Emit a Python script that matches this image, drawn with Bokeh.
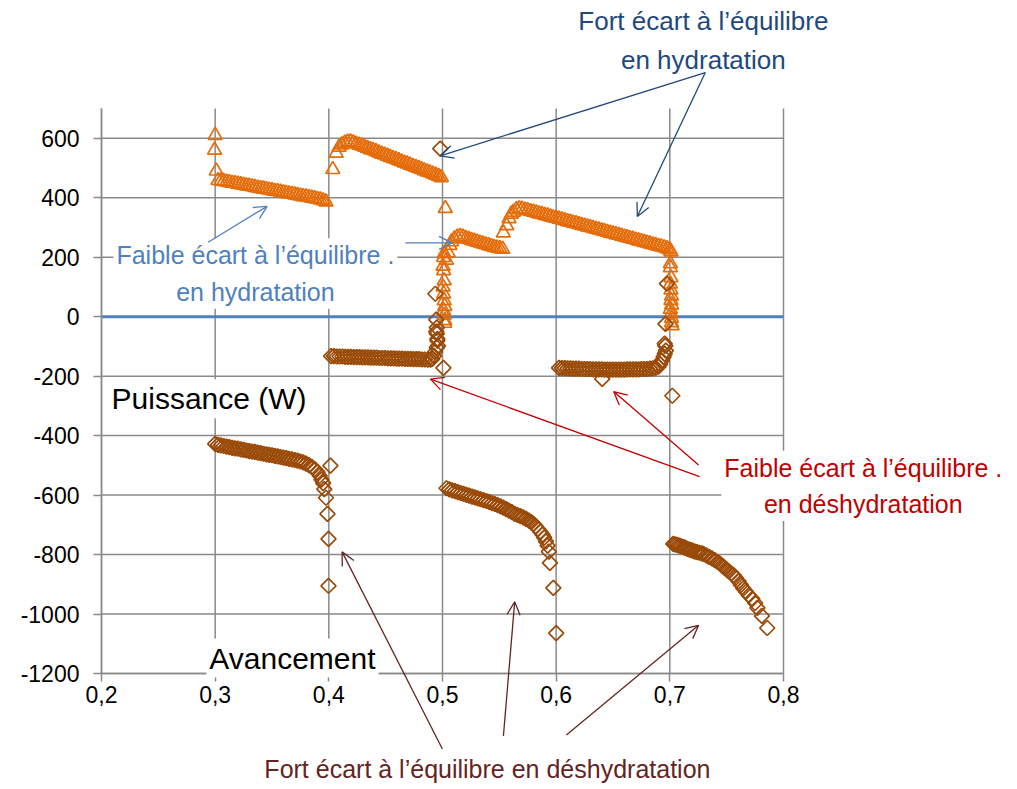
import numpy as np
from bokeh.plotting import figure
from bokeh.models import Range1d, FixedTicker, Label, Arrow, OpenHead
from bokeh.embed import file_html
from bokeh.resources import INLINE

# ---------------- data ----------------
# Hydration (orange triangles)
hyd1_x = [0.3000, 0.2995, 0.3010,
          0.3025, 0.3050, 0.3075, 0.3100, 0.3125, 0.3150, 0.3175, 0.3200, 0.3225, 0.3250,
          0.3275, 0.3300, 0.3325, 0.3350, 0.3375, 0.3400, 0.3425, 0.3450, 0.3475, 0.3500,
          0.3525, 0.3550, 0.3575, 0.3600, 0.3625, 0.3650, 0.3675, 0.3700, 0.3725, 0.3750,
          0.3775, 0.3800, 0.3825, 0.3850, 0.3875, 0.3900, 0.3925, 0.3950, 0.3975]
hyd1_y = [610, 560, 490,
          458, 457, 455, 453, 451, 449, 448, 446, 444, 442,
          440, 439, 437, 435, 433, 431, 430, 428, 426, 424,
          422, 421, 419, 417, 415, 413, 412, 410, 408, 406,
          404, 403, 401, 399, 397, 395, 393, 390, 386]

hyd2_x = [0.4035, 0.4065, 0.4090,
          0.4115, 0.4140, 0.4165, 0.4190, 0.4215, 0.4240, 0.4265, 0.4290, 0.4315, 0.4340,
          0.4365, 0.4390, 0.4415, 0.4440, 0.4465, 0.4490, 0.4515, 0.4540, 0.4565, 0.4590,
          0.4615, 0.4640, 0.4665, 0.4690, 0.4715, 0.4740, 0.4765, 0.4790, 0.4815, 0.4840,
          0.4865, 0.4890, 0.4915, 0.4940, 0.4965, 0.4990]
hyd2_y = [495, 550, 570,
          578, 584, 587, 588, 585, 581, 577, 574, 570, 566,
          562, 559, 555, 551, 547, 544, 540, 536, 532, 529,
          525, 521, 517, 514, 510, 506, 502, 499, 495, 491,
          487, 484, 480, 476, 472, 468]

hyd_drop1_x = [0.5025, 0.5015, 0.5010, 0.5005, 0.5010, 0.5015, 0.5005, 0.5010, 0.5015,
               0.5020, 0.5010, 0.5015, 0.5020, 0.5020]
hyd_drop1_y = [364, 212, 199, 170, 155, 121, 100, 77, 54, 35, 20, 5, -13, -22]

hyd3_x = [0.5035, 0.5050, 0.5065, 0.5080, 0.5105, 0.5130, 0.5155, 0.5180, 0.5205, 0.5230,
          0.5255, 0.5280, 0.5305, 0.5330, 0.5355, 0.5380, 0.5405, 0.5430, 0.5455, 0.5480,
          0.5505, 0.5530]
hyd3_y = [190, 215, 240, 252, 262, 268, 270, 268, 264, 260,
          257, 254, 251, 248, 245, 242, 239, 236, 233, 231,
          229, 227]

hyd4_x = [0.5535, 0.5565, 0.5585, 0.5605, 0.5625, 0.5650, 0.5675, 0.5700,
          0.5725, 0.5750, 0.5775, 0.5800, 0.5825, 0.5850, 0.5875, 0.5900, 0.5925, 0.5950,
          0.5975, 0.6000, 0.6025, 0.6050, 0.6075, 0.6100, 0.6125, 0.6150, 0.6175, 0.6200,
          0.6225, 0.6250, 0.6275, 0.6300, 0.6325, 0.6350, 0.6375, 0.6400, 0.6425, 0.6450,
          0.6475, 0.6500, 0.6525, 0.6550, 0.6575, 0.6600, 0.6625, 0.6650, 0.6675, 0.6700,
          0.6725, 0.6750, 0.6775, 0.6800, 0.6825, 0.6850, 0.6875, 0.6900, 0.6925, 0.6950,
          0.6975, 0.7000, 0.7010]
hyd4_y = [282, 306, 330, 345, 352, 360, 363, 362,
          359, 357, 354, 352, 349, 346, 344, 341, 339, 336,
          333, 331, 328, 326, 323, 320, 318, 315, 313, 310,
          307, 305, 302, 300, 297, 294, 292, 289, 287, 284,
          281, 279, 276, 274, 271, 268, 266, 263, 261, 258,
          255, 253, 250, 248, 245, 242, 240, 237, 235, 232,
          229, 225, 218]

hyd_drop2_x = [0.7005, 0.7005, 0.7010, 0.7005, 0.7010, 0.7015, 0.7010, 0.7015, 0.7005,
               0.7010, 0.7015, 0.7015, 0.7020]
hyd_drop2_y = [178, 165, 131, 110, 90, 70, 55, 40, 25, 10, -5, -20, -30]

# Dehydration (brown diamonds)
deh1_x = [0.3000, 0.3025, 0.3050, 0.3075, 0.3100, 0.3125, 0.3150, 0.3175, 0.3200, 0.3225,
          0.3250, 0.3275, 0.3300, 0.3325, 0.3350, 0.3375, 0.3400, 0.3425, 0.3450, 0.3475,
          0.3500, 0.3525, 0.3550, 0.3575, 0.3600, 0.3625, 0.3650, 0.3675, 0.3700, 0.3725,
          0.3750, 0.3775, 0.3800, 0.3825, 0.3850, 0.3875, 0.3900, 0.3920, 0.3935, 0.3950,
          0.3960, 0.3975, 0.3988, 0.3997, 0.3997, 0.4014]
deh1_y = [-428, -431, -433, -435, -437, -439, -441, -443, -444, -446,
          -448, -450, -452, -454, -455, -457, -459, -461, -463, -465,
          -466, -468, -470, -472, -474, -476, -478, -480, -482, -484,
          -487, -490, -494, -499, -505, -513, -523, -535, -548, -560,
          -580, -609, -663, -747, -905, -501]

deh2_x = [0.4020, 0.4045, 0.4070, 0.4095, 0.4120, 0.4145, 0.4170, 0.4195, 0.4220, 0.4245,
          0.4270, 0.4295, 0.4320, 0.4345, 0.4370, 0.4395, 0.4420, 0.4445, 0.4470, 0.4495,
          0.4520, 0.4545, 0.4570, 0.4595, 0.4620, 0.4645, 0.4670, 0.4695, 0.4720, 0.4745,
          0.4770, 0.4795, 0.4820, 0.4845, 0.4870, 0.4895,
          0.4910, 0.4925, 0.4935, 0.4950, 0.4960, 0.4955, 0.4955, 0.4950, 0.4945, 0.4950,
          0.4945, 0.4937, 0.5008]
deh2_y = [-133, -133, -134, -134, -134, -135, -135, -135, -136, -136,
          -136, -137, -137, -137, -138, -138, -138, -139, -139, -139,
          -140, -140, -140, -141, -141, -141, -142, -142, -142, -143,
          -143, -143, -144, -144, -145, -145,
          -142, -132, -118, -104, -98, -81, -75, -57, -50, -37,
          -10, 77, -172]

deh3_x = [0.5035, 0.5060, 0.5085, 0.5110, 0.5135, 0.5160, 0.5185, 0.5210, 0.5235, 0.5260,
          0.5285, 0.5310, 0.5335, 0.5360, 0.5385, 0.5410, 0.5435, 0.5460, 0.5485, 0.5510,
          0.5535, 0.5560, 0.5585, 0.5610, 0.5635, 0.5660, 0.5685, 0.5710, 0.5735, 0.5760,
          0.5780, 0.5800, 0.5820, 0.5840, 0.5860, 0.5880, 0.5895, 0.5910, 0.5925,
          0.5935, 0.5945, 0.5975, 0.6000]
deh3_y = [-577, -581, -584, -587, -590, -593, -596, -599, -602, -605,
          -608, -611, -614, -617, -620, -623, -627, -630, -634, -638,
          -642, -647, -652, -657, -663, -667, -671, -675, -680, -686,
          -691, -697, -705, -714, -723, -733, -743, -756, -770,
          -790, -828, -912, -1064]

deh4_x = [0.6025, 0.6050, 0.6075, 0.6100, 0.6125, 0.6150, 0.6175, 0.6200, 0.6225, 0.6250,
          0.6275, 0.6300, 0.6325, 0.6350, 0.6375, 0.6400, 0.6425, 0.6450, 0.6475, 0.6500,
          0.6525, 0.6550, 0.6575, 0.6600, 0.6625, 0.6650, 0.6675, 0.6700, 0.6725, 0.6750,
          0.6775, 0.6800, 0.6825, 0.6850, 0.6875, 0.6900,
          0.6915, 0.6930, 0.6945, 0.6955, 0.6965, 0.6960, 0.6955, 0.6962, 0.6975, 0.7022,
          0.6405]
deh4_y = [-172, -173, -173, -174, -174, -175, -175, -175, -176, -176,
          -176, -176, -177, -177, -177, -177, -178, -178, -178, -178,
          -178, -178, -178, -178, -177, -177, -177, -177, -177, -176,
          -176, -176, -175, -174, -172, -168,
          -160, -148, -135, -125, -114, -98, -91, -24, 111, -266,
          -209]

deh5_x = [0.7030, 0.7045, 0.7060, 0.7075, 0.7090, 0.7105, 0.7120, 0.7135, 0.7154, 0.7170,
          0.7185, 0.7200, 0.7220, 0.7240, 0.7260, 0.7280, 0.7295, 0.7320, 0.7345, 0.7370,
          0.7395, 0.7420, 0.7440, 0.7460, 0.7480, 0.7500, 0.7520, 0.7540, 0.7560, 0.7580,
          0.7605, 0.7625, 0.7646, 0.7670, 0.7695, 0.7726, 0.7750, 0.7770, 0.7810, 0.7857]
deh5_y = [-764, -766, -767, -769, -771, -773, -775, -777, -781, -783,
          -785, -787, -790, -792, -794, -796, -798, -803, -808, -813,
          -819, -825, -830, -837, -844, -851, -857, -863, -869, -878,
          -890, -902, -914, -925, -937, -949, -963, -979, -1006, -1047]

deh_single_x = [0.4980]
deh_single_y = [565]

# zero reference line
zero_x = [0.2, 0.8]
zero_y = [0, 0]

# axes
x_ticks = [0.2, 0.3, 0.4, 0.5, 0.6, 0.7, 0.8]
x_tick_labels = ["0,2", "0,3", "0,4", "0,5", "0,6", "0,7", "0,8"]
y_ticks = [-1200, -1000, -800, -600, -400, -200, 0, 200, 400, 600]
y_tick_labels = ["-1200", "-1000", "-800", "-600", "-400", "-200", "0", "200", "400", "600"]
X0, X1 = 0.2, 0.8
Y0, Y1 = -1200, 700

# ---------------- layout ----------------
W, H = 1012, 788
PL, PR, PT, PB = 101, 783, 108, 673      # plot-area edges in canvas pixels
sx = (PR - PL) / (X1 - X0)
sy = (PB - PT) / (Y1 - Y0)

FONT = "Liberation Sans"
GRID = "#8a8a8a"
ORANGE = "#E46C0A"
BROWN = "#9A4A08"

hyd_x = hyd1_x + hyd2_x + hyd_drop1_x + hyd3_x + hyd4_x + hyd_drop2_x
hyd_y = hyd1_y + hyd2_y + hyd_drop1_y + hyd3_y + hyd4_y + hyd_drop2_y
deh_x = deh1_x + deh2_x + deh3_x + deh4_x + deh5_x + deh_single_x
deh_y = deh1_y + deh2_y + deh3_y + deh4_y + deh5_y + deh_single_y
assert len(hyd_x) == len(hyd_y) and len(deh_x) == len(deh_y)

p = figure(width=W, height=H, output_backend="svg", toolbar_location=None,
           x_range=Range1d(X0 - PL / sx, X1 + (W - PR) / sx),
           y_range=Range1d(Y0 - (H - PB) / sy, Y1 + PT / sy),
           min_border=0)
p.outline_line_color = None
p.background_fill_color = "white"
p.border_fill_color = "white"
p.grid.visible = False

for ax, ticks, labels in ((p.xaxis[0], x_ticks, x_tick_labels), (p.yaxis[0], y_ticks, y_tick_labels)):
    ax.ticker = FixedTicker(ticks=ticks)
    ax.major_label_overrides = {t: l for t, l in zip(ticks, labels)}
    ax.axis_line_color = GRID
    ax.axis_line_width = 1.5
    ax.major_tick_line_color = GRID
    ax.major_tick_line_width = 1.5
    ax.major_tick_out = 8
    ax.major_tick_in = 0
    ax.minor_tick_line_color = None
    ax.major_label_text_font = FONT
    ax.major_label_text_font_size = "23px"
    ax.major_label_text_color = "black"
p.xaxis[0].fixed_location = Y0
p.xaxis[0].bounds = (X0, X1)
p.yaxis[0].fixed_location = X0
p.yaxis[0].bounds = (Y0, Y1)
p.xaxis.major_label_standoff = 4
p.yaxis.major_label_standoff = 14

# grid lines at the tick positions, limited to the plot area
p.segment(x0=x_ticks, y0=[Y0] * len(x_ticks), x1=x_ticks, y1=[Y1] * len(x_ticks),
          line_color=GRID, line_width=1.5)
p.segment(x0=[X0] * len(y_ticks), y0=y_ticks, x1=[X1] * len(y_ticks), y1=y_ticks,
          line_color=GRID, line_width=1.5)

p.line(zero_x, zero_y, line_color="#4F81BD", line_width=3)

p.scatter(hyd_x, hyd_y, marker="triangle", size=14, line_color=ORANGE,
          fill_color=None, line_width=1.7)
p.scatter(deh_x, deh_y, marker="square", angle=np.pi / 4, size=10.6,
          line_color=BROWN, fill_color=None, line_width=1.7)

# annotations
DBLUE = "#1F497D"
LBLUE = "#4F81BD"
RED = "#C00000"
DRED = "#632523"

def lab(text, x, y, color, size="25px", align="center", bg=None):
    l = Label(x=x, y=y, text=text, text_color=color, text_font=FONT,
              text_font_size=size, text_align=align, text_baseline="middle",
              text_line_height=1.3)
    if bg:
        l.background_fill_color = bg
        l.padding = 3
    p.add_layout(l)

lab("Fort écart à l’équilibre\nen hydratation", 0.7295, 930, DBLUE, size="26px")
lab("Faible écart à l’équilibre .\nen hydratation", 0.3354, 145, LBLUE, bg="white")
lab("Faible écart à l’équilibre .\nen déshydratation", 0.8702, -569, RED, bg="white")
lab("Fort écart à l’équilibre en déshydratation", 0.5395, -1521, DRED)
lab("Puissance (W)", 0.2062, -276, "black", size="30px", align="left", bg="white")
lab("Avancement", 0.368, -1148, "black", size="30px", bg="white")

arrows = [
    (0.7312, 821, 0.4981, 541, DBLUE),
    (0.7312, 821, 0.6714, 337, DBLUE),
    (0.2938, 250, 0.3457, 371, LBLUE),
    (0.4674, 248, 0.5084, 248, LBLUE),
    (0.7262, -538, 0.4894, -210, RED),
    (0.7253, -499, 0.6506, -252, RED),
    (0.4999, -1454, 0.4117, -791, DRED),
    (0.5536, -1410, 0.5635, -959, DRED),
    (0.6090, -1407, 0.7253, -1038, DRED),
]
for xs, ys, xe, ye, c in arrows:
    p.add_layout(Arrow(x_start=xs, y_start=ys, x_end=xe, y_end=ye, line_color=c,
                       line_width=1.3,
                       end=OpenHead(size=13, line_color=c, line_width=1.3)))

open("out.html", "w").write(file_html(p, INLINE))
